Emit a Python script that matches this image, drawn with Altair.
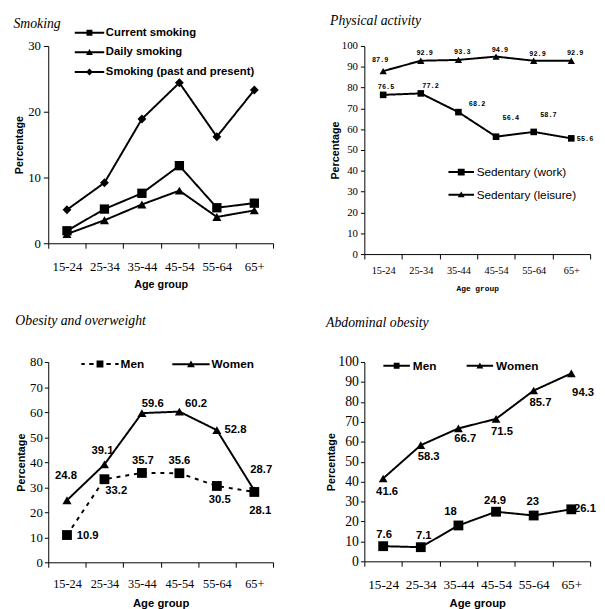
import altair as alt
import pandas as pd

ages = ["15-24", "25-34", "35-44", "45-54", "55-64", "65+"]

# Smoking (%)
smk_names = ["Current smoking", "Daily smoking", "Smoking (past and present)"]
smk_current = [1.9, 5.2, 7.6, 11.8, 5.4, 6.1]
smk_daily = [1.4, 3.5, 5.9, 8.0, 4.0, 5.0]
smk_ever = [5.1, 9.2, 18.9, 24.4, 16.2, 23.3]

# Physical activity (%)
pa_names = ["Sedentary (work)", "Sedentary (leisure)"]
pa_work = [76.5, 77.2, 68.2, 56.4, 58.7, 55.6]
pa_leisure = [87.9, 92.9, 93.3, 94.9, 92.9, 92.9]

# Obesity and overweight (%)
ob_names = ["Men", "Women"]
ob_men = [10.9, 33.2, 35.7, 35.6, 30.5, 28.1]
ob_women = [24.8, 39.1, 59.6, 60.2, 52.8, 28.7]

# Abdominal obesity (%)
ab_names = ["Men", "Women"]
ab_men = [7.6, 7.1, 18, 24.9, 23, 26.1]
ab_women = [41.6, 58.3, 66.7, 71.5, 85.7, 94.3]

# value-label placement (dx, dy in px), kept apart from the values
pa_work_off = [(3, -8), (10, -8), (19, -8), (15, -19), (15, -17), (14, 1)]
pa_leis_off = [(-3, -11), (4, -8), (4, -8), (4, -7), (4, -7), (4, -8)]
ob_men_off = [(21, 1), (12, 12), (1, -12), (0, -12), (3, 14), (6, 19)]
ob_women_off = [(-1, -25), (-2, -14), (11, -9), (17, -8), (19, 0), (7, -21)]
ab_men_off = [(1, -11), (3, -11), (-8, -14), (-1, -11), (-1, -14), (14, 0)]
ab_women_off = [(4, 14), (8, 12), (7, 11), (6, 13), (7, 13), (12, 20)]

SERIF = "Liberation Serif"
SANS = "Liberation Sans"
MONO = "Liberation Mono"


def fmt(v):
    return f"{v:g}"


def make_df(names, values):
    rows = []
    for n, vals in zip(names, values):
        for i, (a, v) in enumerate(zip(ages, vals)):
            rows.append({"age": a, "value": v, "series": n, "idx": i, "lab": fmt(v)})
    return pd.DataFrame(rows)


def r(v):
    return f"{round(v, 3):g}"


def rect(x0, x1, y0, y1, u):
    return (f"M{r(x0 / u)},{r(y0 / u)}L{r(x1 / u)},{r(y0 / u)}"
            f"L{r(x1 / u)},{r(y1 / u)}L{r(x0 / u)},{r(y1 / u)}Z")


def sym_path(u, marker, dashed=False, lw=1.0):
    """legend key drawn as filled shapes: a line 4u long with a marker in the middle"""
    half = 2 * u
    if dashed:
        segs = [(-19, -15.5), (-11, -6.5), (6.5, 11), (15.5, 19)]
        line = "".join(rect(a, b, -lw, lw, u) for a, b in segs)
    else:
        line = rect(-half, half, -lw, lw, u)
    kind, w, hgt = marker
    hw = w / 2 / u
    hh = hgt / 2 / u
    if kind == "square":
        m = f"M{r(-hw)},{r(-hw)}L{r(hw)},{r(-hw)}L{r(hw)},{r(hw)}L{r(-hw)},{r(hw)}Z"
    elif kind == "triangle":
        m = f"M0,{r(-hh * 1.1)}L{r(hw)},{r(hh * 0.9)}L{r(-hw)},{r(hh * 0.9)}Z"
    else:
        m = f"M{r(-hw)},0L0,{r(-hw)}L{r(hw)},0L0,{r(hw)}Z"
    return line + m


def panel(key, names, values, shapes, sizes, dashes, leg, w, h, ymax, ystep,
          title, toff, ax, offsets=None, lab_font=None):
    df = make_df(names, values)
    df = df.rename(columns={"series": key})
    x = alt.X("age:N", sort=ages,
              scale=alt.Scale(type="band", paddingInner=0, paddingOuter=0),
              axis=alt.Axis(title="Age group", labelAngle=0, tickBand="extent",
                            labelFont=SERIF, labelFontSize=ax["xls"],
                            labelPadding=ax["xlp"], tickSize=5,
                            titleFont=ax["xtf"], titleFontSize=ax["xts"],
                            titleFontWeight="bold", titlePadding=ax["xtp"],
                            domainColor="black", tickColor="black",
                            labelColor="black", titleColor="black", grid=False))
    y = alt.Y("value:Q",
              scale=alt.Scale(domain=[0, ymax], nice=False, zero=True),
              axis=alt.Axis(title="Percentage", values=list(range(0, ymax + 1, ystep)),
                            labelFont=SERIF, labelFontSize=ax["yls"],
                            labelPadding=ax["ylp"], tickSize=ax["yts"],
                            titleFont=SANS, titleFontSize=11, titleFontWeight="bold",
                            titlePadding=ax["ytp"], domainColor="black",
                            tickColor="black", labelColor="black",
                            titleColor="black", grid=False))
    base = alt.Chart(df)
    line = base.mark_line(color="black", strokeWidth=2, opacity=1).encode(
        x=x, y=y,
        strokeDash=alt.StrokeDash(f"{key}:N", scale=alt.Scale(domain=names, range=dashes),
                                  legend=None))
    pts = base.mark_point(filled=True, color="black", opacity=1).encode(
        x=x, y=y,
        shape=alt.Shape(f"{key}:N", scale=alt.Scale(domain=names, range=shapes), legend=None),
        size=alt.Size(f"{key}:N", scale=alt.Scale(domain=names, range=sizes), legend=None))
    legend = alt.Legend(
        orient="none", legendX=leg["x"], legendY=leg["y"], direction=leg["dir"],
        title=None, padding=0, symbolSize=leg["size"], symbolStrokeWidth=1.5,
        symbolFillColor="black", symbolStrokeColor="black", symbolOpacity=1,
        labelFont=SANS, labelFontSize=leg["fs"], labelFontWeight=leg["fw"],
        labelColor="black", labelOffset=leg["lo"], rowPadding=leg.get("rp", 0),
        columnPadding=leg.get("cp", 0), labelLimit=300)
    leg_layer = base.transform_filter("datum.value < 0").mark_point(
        filled=True, color="black", strokeWidth=1.5, opacity=1).encode(
        x=x, y=y,
        shape=alt.Shape(f"{key}:N", scale=alt.Scale(domain=names, range=leg["paths"]),
                        legend=legend))
    layers = [line, pts, leg_layer]
    if offsets is not None:
        for n, offs in zip(names, offsets):
            for i, (dx, dy) in enumerate(offs):
                layers.append(
                    base.transform_filter(
                        (alt.datum[key] == n) & (alt.datum.idx == i)
                    ).mark_text(dx=dx, dy=dy, font=lab_font["font"],
                                fontSize=lab_font["size"], fontWeight="bold",
                                color="black", align="center", baseline="middle"
                                ).encode(x=x, y=y, text="lab:N"))
    ch = alt.layer(*layers).resolve_scale(shape="independent").properties(
        width=w, height=h,
        title=alt.TitleParams(title, font=SERIF, fontStyle="italic", fontSize=14,
                              fontWeight="normal", anchor="start", frame="bounds",
                              offset=toff, color="black"))
    return ch


# ---- Smoking
u1 = 7.5
p1 = panel(
    "s1", smk_names, [smk_current, smk_daily, smk_ever],
    ["square", "triangle-up", "diamond"], [90, 81, 130], [[1, 0], [1, 0], [1, 0]],
    dict(x=33.5, y=-22, dir="vertical", size=(2 * u1) ** 2, fs=11.5, fw="bold",
         lo=8.2, rp=5.0,
         paths=[sym_path(u1, ("square", 6, 6)), sym_path(u1, ("triangle", 7, 6)),
                sym_path(u1, ("diamond", 7, 7))]),
    229, 201, 30, 10, "Smoking", -7,
    dict(xls=13, xlp=12.5, xtf=SANS, xts=11, xtp=6, yls=13, ylp=3, yts=5, ytp=3.5))

# ---- Physical activity
u2 = 6.5
p2 = panel(
    "s2", pa_names, [pa_work, pa_leisure],
    ["square", "triangle-up"], [45, 55], [[1, 0], [1, 0]],
    dict(x=91.2, y=121, dir="vertical", size=(2 * u2) ** 2, fs=12, fw="normal",
         lo=8.2, rp=9.0,
         paths=[sym_path(u2, ("square", 7, 7)), sym_path(u2, ("triangle", 7, 6))]),
    230, 212, 100, 10, "Physical activity", 12.5,
    dict(xls=10.5, xlp=6.5, xtf=MONO, xts=8, xtp=9.5, yls=11, ylp=3, yts=4, ytp=0.5),
    offsets=[pa_work_off, pa_leis_off], lab_font=dict(font=MONO, size=7))

# ---- Obesity and overweight
u3 = 9.5
p3 = panel(
    "s3", ob_names, [ob_men, ob_women],
    ["square", "triangle-up"], [100, 85], [[4, 5], [1, 0]],
    dict(x=42.2, y=-8.5, dir="horizontal", size=(2 * u3) ** 2, fs=12, fw="bold",
         lo=10.5, cp=24.7,
         paths=[sym_path(u3, ("square", 7, 7), dashed=True, lw=1.1),
                sym_path(u3, ("triangle", 8, 7))]),
    229, 204, 80, 10, "Obesity and overweight", 26,
    dict(xls=12.5, xlp=11, xtf=SANS, xts=11.5, xtp=8, yls=13, ylp=2, yts=4, ytp=3.5),
    offsets=[ob_men_off, ob_women_off], lab_font=dict(font=SANS, size=11.5))

# ---- Abdominal obesity
u4 = 6.75
p4 = panel(
    "s4", ab_names, [ab_men, ab_women],
    ["square", "triangle-up"], [100, 80], [[1, 0], [1, 0]],
    dict(x=25.4, y=-4, dir="horizontal", size=(2 * u4) ** 2, fs=12, fw="bold",
         lo=9, cp=27.8,
         paths=[sym_path(u4, ("square", 6, 6)), sym_path(u4, ("triangle", 7, 6))]),
    230, 203, 100, 10, "Abdominal obesity", 26,
    dict(xls=13.5, xlp=12, xtf=SANS, xts=11.5, xtp=7, yls=14, ylp=2, yts=4, ytp=1),
    offsets=[ab_men_off, ab_women_off], lab_font=dict(font=SANS, size=11.5))

res = dict(shape="independent", size="independent", strokeDash="independent")
row1 = alt.hconcat(p1, p2, spacing=93, bounds="flush").resolve_scale(**res)
row2 = alt.hconcat(p3, p4, spacing=93, bounds="flush").resolve_scale(**res)
chart = (
    alt.vconcat(row1, row2, spacing=322, bounds="flush")
    .resolve_scale(**res)
    .properties(padding={"left": 5, "top": 0, "right": 0, "bottom": 0},
                background="white")
    .configure_view(stroke=None)
)

chart.save("out.html", embed_options={"renderer": "svg", "actions": False})
